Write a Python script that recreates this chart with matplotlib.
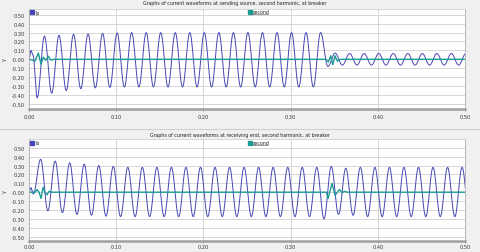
import numpy as np
import matplotlib
matplotlib.use('Agg')
import matplotlib.pyplot as plt
from matplotlib.lines import Line2D

# ----- data -----
HALF = 1.0 / 120.0   # half cycle of the 60 Hz wave

# sending source, Ip: first points, then one extremum per half cycle
ip_pre_t = [0.0, 0.0023, 0.0045]
ip_pre_v = [0.0, 0.10, 0.05]
ip_first = 0.0094
ip_ext = ([-0.43, 0.26, -0.38, 0.27, -0.35, 0.28, -0.33, 0.285, -0.32, 0.29, -0.315, 0.295]
          + [-0.31, 0.30] * 14
          + [-0.08, 0.07] + [-0.065, 0.065] * 9)

# receiving end, Ib
ib_pre_t = [0.0, 0.0022]
ib_pre_v = [0.0, 0.05]
ib_first = 0.005
ib_ext = ([-0.02, 0.37, -0.21, 0.35, -0.23, 0.33, -0.25, 0.315, -0.26, 0.30, -0.27, 0.29, -0.275]
          + [0.28, -0.275] * 13 + [0.28]
          + [-0.30, 0.29, -0.25, 0.27, -0.26]
          + [0.28, -0.275] * 8)

# second harmonic traces
sec_top_t = [0, 0.003, 0.0069, 0.0107, 0.0138, 0.0164, 0.0191, 0.0222, 0.0249, 0.028, 0.034,
             0.3406, 0.3433, 0.346, 0.3483, 0.3509, 0.3536, 0.3567, 0.5]
sec_top_v = [0, -0.005, -0.02, 0.07, -0.055, 0.025, -0.01, 0.035, -0.01, 0.0, 0.0,
             0.0, -0.03, 0.04, -0.06, 0.04, -0.02, 0.0, 0.0]
sec_bot_t = [0, 0.0069, 0.0092, 0.0115, 0.0138, 0.0161, 0.0184, 0.0206, 0.023, 0.027,
             0.341, 0.343, 0.3475, 0.351, 0.356, 0.359, 0.362, 0.365, 0.5]
sec_bot_v = [0, 0.0, 0.03, 0.0, -0.07, 0.055, 0.0, -0.03, 0.01, 0.0,
             0.0, -0.07, 0.10, -0.035, 0.03, -0.005, 0.01, 0.0, 0.0]

titles = ['Graphs of current waveforms at sending source, second harmonic, at breaker',
          'Graphs of current waveforms at receiving end, second harmonic, at breaker']
names = ['Ip', 'Ib']

BLUE = '#4646b4'
TEAL = '#1a9c94'
BG = '#f0f0f0'


def wave(pre_t, pre_v, first, ext):
    # join the read extrema with half-cosine pieces
    kt = np.concatenate([pre_t, first + HALF * np.arange(len(ext))])
    kv = np.concatenate([pre_v, ext])
    t_out, v_out = [], []
    for i in range(len(kt) - 1):
        s = np.linspace(0, 1, 14)[:-1]
        t_out.append(kt[i] + s * (kt[i + 1] - kt[i]))
        v_out.append(kv[i] + (kv[i + 1] - kv[i]) * (1 - np.cos(np.pi * s)) / 2)
    return np.concatenate(t_out), np.concatenate(v_out)


fig = plt.figure(figsize=(4.8, 2.53), dpi=100, facecolor=BG)
H = 253.0

panels = [
    # top px, bottom px, ylim, title y px, traces, title x px, x label pad
    (9.5, 110.0, (-0.556, 0.569), 4.0, wave(ip_pre_t, ip_pre_v, ip_first, ip_ext), (sec_top_t, sec_top_v), 235, 2.4),
    (140.0, 242.3, (-0.552, 0.598), 135.0, wave(ib_pre_t, ib_pre_v, ib_first, ib_ext), (sec_bot_t, sec_bot_v), 240, 0.6),
]

for n, (top, bot, ylim, ty, main_w, sec_w, tx, xpad) in enumerate(panels):
    ax = fig.add_axes([29 / 480, 1 - bot / H, 436 / 480, (bot - top) / H])
    ax.set_facecolor('white')
    ax.plot(main_w[0], main_w[1], color=BLUE, lw=0.7)
    ax.plot(sec_w[0], sec_w[1], color=TEAL, lw=1.0)
    ax.set_xlim(0, 0.5)
    ax.set_ylim(*ylim)
    yt = np.round(np.arange(-0.5, 0.51, 0.1), 2)
    ax.set_yticks(yt)
    ax.set_yticklabels(['%.2f' % v for v in yt])
    ax.set_xticks([0, 0.1, 0.2, 0.3, 0.4, 0.5])
    ax.set_xticklabels(['0.00', '0.10', '0.20', '0.30', '0.40', '0.50'])
    ax.grid(True, color='#d6d6d6', lw=0.7)
    ax.set_axisbelow(True)
    ax.tick_params(axis='y', length=0, pad=3, labelsize=3.6, labelcolor='#333333')
    ax.tick_params(axis='x', length=1.2, pad=xpad, labelsize=3.6, labelcolor='#333333', color='#999999')
    for side in ['left', 'right', 'top']:
        ax.spines[side].set_color('#b0b0b0')
        ax.spines[side].set_linewidth(0.6)
    ax.spines['top'].set_color('#d0d0d0')
    ax.spines['bottom'].set_color('#a0a0a0')
    ax.spines['bottom'].set_linewidth(1.8)

    # title and y label
    fig.text(tx / 480, 1 - ty / H, titles[n], fontsize=3.4, ha='center', va='center', color='#222222')
    fig.text(4 / 480, 1 - (top + bot) / 2 / H, 'y', fontsize=3.6, rotation=90,
             ha='center', va='center', color='#333333')

    # legend row
    ly = 1 - (top + 3.5) / H
    fig.add_artist(Line2D([31.5 / 480], [ly], marker='s', ms=2.2, color=BLUE, ls=''))
    fig.text(35.5 / 480, ly, names[n], fontsize=3.4, ha='left', va='center', color='#222222')
    fig.add_artist(Line2D([249.5 / 480], [ly], marker='s', ms=2.2, color=TEAL, ls=''))
    fig.text(252.5 / 480, ly, 'second', fontsize=3.4, ha='left', va='center', color='#222222')
    fig.add_artist(Line2D([252.5 / 480, 267.5 / 480], [ly - 2.2 / H, ly - 2.2 / H], color='#555555', lw=0.4))

# separator between the panels
fig.add_artist(Line2D([0, 1], [1 - 130 / H, 1 - 130 / H], color='#d0d0d0', lw=0.8))

fig.savefig('out.png', dpi=100, facecolor=BG)
